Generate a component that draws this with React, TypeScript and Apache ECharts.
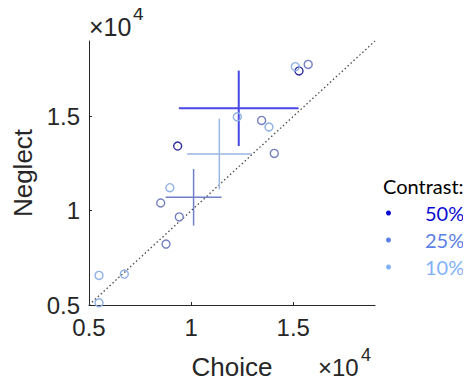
import React, { useEffect, useRef } from "react";
import * as echarts from "echarts";

const tickLabels = ["0.5", "1", "1.5"];
const contrasts = ["50%", "25%", "10%"];

// Individual subjects [Choice, Neglect] (x10^4)
const points50: number[][] = [
  [0.934, 1.343],
  [1.528, 1.741],
];
const points25: number[][] = [
  [0.877, 0.823],
  [0.851, 1.041],
  [0.942, 0.967],
  [1.345, 1.479],
  [1.407, 1.304],
  [1.573, 1.776],
];
const points10: number[][] = [
  [0.549, 0.657],
  [0.549, 0.512],
  [0.673, 0.664],
  [0.896, 1.122],
  [1.226, 1.498],
  [1.381, 1.444],
  [1.51, 1.764],
];

// Means with errors [meanX, meanY, errX, errY]
const mean50 = [1.233, 1.543, 0.293, 0.2];
const mean25 = [1.012, 1.071, 0.137, 0.15];
const mean10 = [1.138, 1.301, 0.158, 0.187];

const diagonal = [
  [0.5, 0.5],
  [1.9, 1.9],
];

const legendColors = ["#0a0ad0", "#5b7fe6", "#7fb2f8"];
const crossColors = ["#4848e6", "#6f80c8", "#9ab6e2"];
const crossWidths = [2, 1.5, 1.5];
const circleColors = ["#2f2f9f", "#7580bf", "#8fb1e3"];

const FONT = "'Liberation Sans', Arial, sans-serif";
const LFONT = "Lato, 'Noto Sans', sans-serif";
const TXT = "#262626";

export default function App() {
  const ref = useRef<HTMLDivElement>(null);
  useEffect(() => {
    if (!ref.current) return;
    const chart = echarts.init(ref.current, undefined, { renderer: "svg" });
    const means = [mean50, mean25, mean10];
    const pts = [points50, points25, points10];

    const crossSeries = contrasts.map((name, i) => ({
      name,
      type: "custom",
      encode: { x: 0, y: 1 },
      data: [means[i]],
      z: 3,
      renderItem: (params: any, api: any) => {
        const x = api.value(0);
        const y = api.value(1);
        const ex = api.value(2);
        const ey = api.value(3);
        const l = api.coord([x - ex, y]);
        const r = api.coord([x + ex, y]);
        const t = api.coord([x, y + ey]);
        const b = api.coord([x, y - ey]);
        const style = { stroke: crossColors[i], lineWidth: crossWidths[i] };
        return {
          type: "group",
          children: [
            { type: "line", shape: { x1: l[0], y1: l[1], x2: r[0], y2: r[1] }, style },
            { type: "line", shape: { x1: t[0], y1: t[1], x2: b[0], y2: b[1] }, style },
          ],
        };
      },
    }));

    const scatterSeries = contrasts.map((name, i) => ({
      name,
      type: "scatter",
      data: pts[i],
      symbol: "circle",
      symbolSize: 8,
      z: 4,
      itemStyle: {
        color: "rgba(255,255,255,0)",
        borderColor: circleColors[i],
        borderWidth: 1.4,
        opacity: 1,
      },
    }));

    const labelFmt = (v: number) => {
      const s = String(Math.round(v * 10) / 10);
      return tickLabels.includes(s) ? s : "";
    };

    chart.setOption({
      animation: false,
      backgroundColor: "#ffffff",
      grid: { left: 89, top: 41, width: 286, height: 264 },
      xAxis: {
        type: "value",
        min: 0.5,
        max: 1.9,
        interval: 0.5,
        name: "Choice",
        nameLocation: "middle",
        nameGap: 49,
        nameTextStyle: { fontFamily: FONT, fontSize: 26, color: TXT },
        splitLine: { show: false },
        axisLine: { onZero: false, lineStyle: { color: TXT, width: 1 } },
        axisTick: { inside: true, length: 3, lineStyle: { color: TXT } },
        axisLabel: {
          fontFamily: FONT,
          fontSize: 24,
          color: TXT,
          margin: 10,
          showMaxLabel: false,
          formatter: labelFmt,
        },
      },
      yAxis: {
        type: "value",
        min: 0.5,
        max: 1.9,
        interval: 0.5,
        name: "Neglect",
        nameLocation: "middle",
        nameGap: 53,
        nameRotate: 90,
        nameTextStyle: { fontFamily: FONT, fontSize: 26, color: TXT },
        splitLine: { show: false },
        axisLine: { show: true, onZero: false, lineStyle: { color: TXT, width: 1 } },
        axisTick: { show: true, inside: true, length: 3, lineStyle: { color: TXT } },
        axisLabel: {
          fontFamily: FONT,
          fontSize: 24,
          color: TXT,
          margin: 9,
          showMaxLabel: false,
          formatter: labelFmt,
        },
      },
      legend: {
        orient: "vertical",
        left: 381,
        top: 198,
        icon: "circle",
        itemWidth: 5,
        itemHeight: 5,
        itemGap: 7,
        selectedMode: false,
        textStyle: { fontFamily: LFONT, fontSize: 20, padding: [0, 0, 0, 29] },
        data: contrasts.map((name, i) => ({
          name,
          itemStyle: { color: legendColors[i] },
          textStyle: { color: legendColors[i] },
        })),
      },
      graphic: [
        {
          type: "text",
          left: 383,
          top: 176,
          style: { text: "Contrast:", fontFamily: LFONT, fontSize: 20, fill: "#000" },
        },
        {
          type: "text",
          left: 89,
          top: 14,
          style: { text: "×10", fontFamily: FONT, fontSize: 25, fill: TXT },
        },
        {
          type: "text",
          left: 133,
          top: 4,
          style: { text: "4", fontFamily: FONT, fontSize: 19, fill: TXT },
        },
        {
          type: "text",
          left: 318,
          top: 355,
          style: { text: "×10", fontFamily: FONT, fontSize: 24, fill: TXT },
        },
        {
          type: "text",
          left: 361,
          top: 346,
          style: { text: "4", fontFamily: FONT, fontSize: 18, fill: TXT },
        },
      ],
      series: [
        {
          type: "line",
          data: diagonal,
          symbol: "none",
          silent: true,
          z: 2,
          lineStyle: { color: "#4a4a4a", width: 1.3, type: [1.5, 2.5] },
        },
        ...crossSeries,
        ...scatterSeries,
      ],
    });
    return () => chart.dispose();
  }, []);
  return <div ref={ref} style={{ width: 471, height: 385, margin: -8 }} />;
}
